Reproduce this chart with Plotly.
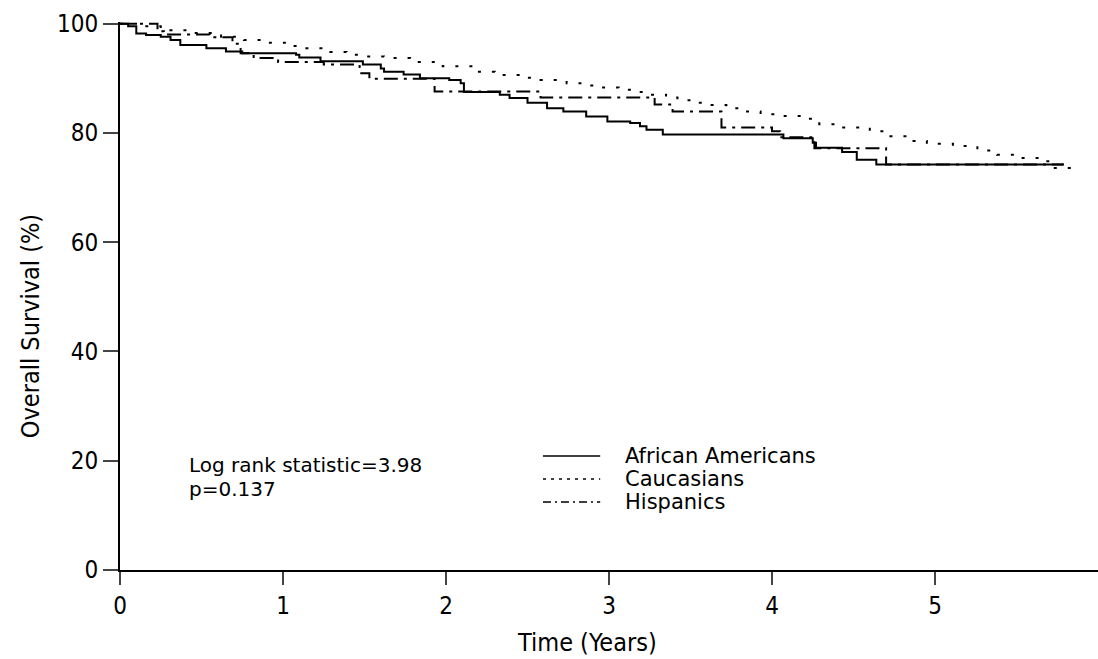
import plotly.graph_objects as go

# ---- data ----
aa_t = [0, 0.05, 0.10, 0.16, 0.25, 0.31, 0.37, 0.53, 0.65, 0.75, 1.08, 1.10, 1.23, 1.49, 1.60, 1.62,
        1.74, 1.84, 2.02, 2.09, 2.11, 2.33, 2.39, 2.50, 2.62, 2.72, 2.86, 2.99, 3.13, 3.19, 3.23, 3.33,
        4.07, 4.25, 4.27, 4.43, 4.52, 4.64, 5.79]
aa_s = [100, 99.5, 98.2, 97.9, 97.6, 97.0, 96.1, 95.5, 94.9, 94.6, 94.3, 93.8, 93.1, 92.5, 91.8, 91.2,
        90.7, 90.0, 89.7, 89.1, 87.5, 87.0, 86.4, 85.5, 84.5, 83.9, 83.0, 82.1, 81.8, 81.2, 80.6, 79.7,
        79.0, 78.2, 77.3, 76.5, 75.1, 74.2, 74.2]

ca_t = [0, 0.12, 0.25, 0.45, 0.62, 0.76, 0.90, 1.02, 1.12, 1.29, 1.39, 1.51, 1.62, 1.78, 1.98, 2.19,
        2.30, 2.46, 2.58, 2.74, 2.84, 2.94, 3.06, 3.16, 3.25, 3.35, 3.42, 3.52, 3.62, 3.72, 3.84, 3.93,
        4.05, 4.19, 4.29, 4.40, 4.60, 4.70, 4.85, 4.95, 5.11, 5.26, 5.38, 5.50, 5.64, 5.71, 5.89]
ca_s = [100, 99.5, 98.8, 98.3, 97.6, 97.0, 96.5, 95.9, 95.5, 94.8, 94.3, 94.0, 93.7, 93.0, 92.2, 91.2,
        90.6, 90.1, 89.7, 89.1, 88.7, 88.3, 87.9, 87.5, 87.0, 86.5, 86.0, 85.5, 85.1, 84.5, 83.9, 83.4,
        83.1, 82.6, 81.6, 81.0, 80.3, 79.4, 78.5, 78.0, 77.6, 76.8, 76.0, 75.4, 74.8, 73.6, 73.6]

hi_t = [0, 0.23, 0.27, 0.55, 0.69, 0.74, 0.82, 0.97, 1.25, 1.47, 1.53, 1.93, 2.58, 3.28, 3.39, 3.69,
        4.00, 4.05, 4.26, 4.70, 5.79]
hi_s = [100, 98.6, 98.0, 97.5, 96.3, 94.6, 93.7, 93.0, 92.5, 90.9, 89.9, 87.6, 86.5, 85.2, 83.9, 81.0,
        80.3, 79.2, 77.2, 74.2, 74.2]

series_names = ["African Americans", "Caucasians", "Hispanics"]
series_dash = ["solid", "3px,11px", "14px,6px,3px,6px"]
legend_dash = ["solid", "3px,5px", "8px,4px,2px,4px"]

x_ticks = [0, 1, 2, 3, 4, 5]
y_ticks = [0, 20, 40, 60, 80, 100]
stat_text = ["Log rank statistic=3.98", "p=0.137"]
x_title = "Time (Years)"
y_title = "Overall Survival (%)"

NARROW = "Liberation Sans Narrow, DejaVu Sans Condensed, Liberation Sans"
WIDE = "DejaVu Sans"

fig = go.Figure()
for name, t, s, d in zip(series_names, [aa_t, ca_t, hi_t], [aa_s, ca_s, hi_s], series_dash):
    fig.add_trace(go.Scatter(x=t, y=s, mode="lines", name=name, line_shape="hv",
                             line=dict(color="black", width=2, dash=d), showlegend=False))

# manual legend
leg_rows = [0.208, 0.166, 0.124]
for name, d, yy in zip(series_names, legend_dash, leg_rows):
    fig.add_shape(type="line", xref="paper", yref="paper", x0=0.4325, x1=0.491, y0=yy, y1=yy,
                  line=dict(color="black", width=1.5, dash=d))
    fig.add_annotation(text=name, xref="paper", yref="paper", x=0.514, y=yy, xanchor="left",
                       yanchor="middle", showarrow=False,
                       font=dict(size=21, color="black", family=WIDE))

for line_text, yy in zip(stat_text, [0.192, 0.148]):
    fig.add_annotation(text=line_text, xref="paper", yref="paper", x=0.068, y=yy,
                       xanchor="left", yanchor="middle", align="left", showarrow=False,
                       font=dict(size=20, color="black", family=WIDE))

# axis titles (placed as in the reference, slightly off-centre)
fig.add_annotation(text=x_title, xref="paper", yref="paper", x=0.4775, y=-0.133,
                   xanchor="center", yanchor="middle", showarrow=False,
                   font=dict(size=25, color="black", family=NARROW))
fig.add_annotation(text=y_title, xref="paper", yref="paper", x=-0.092, y=0.445,
                   xanchor="center", yanchor="middle", showarrow=False, textangle=-90,
                   font=dict(size=25, color="black", family=NARROW))

fig.update_layout(
    width=1098, height=659,
    margin=dict(l=120, r=0, t=22, b=89),
    plot_bgcolor="white", paper_bgcolor="white",
    font=dict(family=NARROW, size=24, color="black"),
    xaxis=dict(range=[0, 6], tickvals=x_ticks, ticks="outside", ticklen=13, tickwidth=1.5,
               showline=True, linecolor="black", linewidth=2, showgrid=False, zeroline=False,
               tickfont=dict(size=24)),
    yaxis=dict(range=[0, 100.3], tickvals=y_ticks, ticks="outside", ticklen=15, tickwidth=1.5,
               showline=True, linecolor="black", linewidth=2, showgrid=False, zeroline=False,
               tickfont=dict(size=24)),
)

fig.write_html("out.html")
